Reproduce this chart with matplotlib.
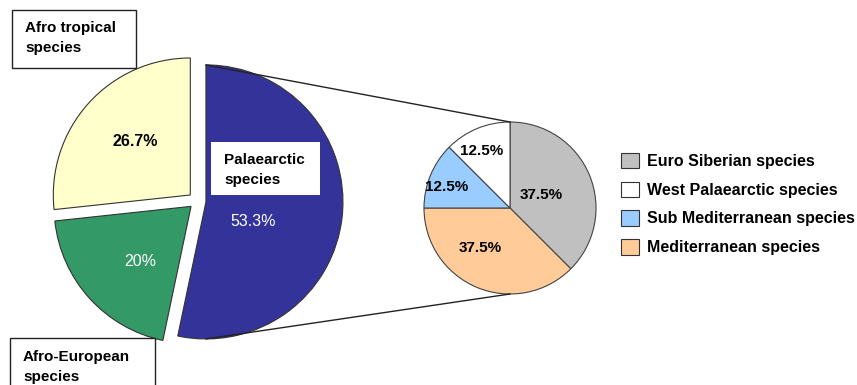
import numpy as np
import matplotlib.pyplot as plt
from matplotlib.patches import Rectangle

plt.rcParams['font.family'] = ['Liberation Sans', 'DejaVu Sans']

# main pie
main_labels = ['Afro tropical species', 'Afro-European species', 'Palaearctic species']
main_values = [26.7, 20.0, 53.3]
main_colors = ['#FFFFCC', '#339966', '#333399']
main_pct = ['26.7%', '20%', '53.3%']

# breakdown of Palaearctic species
sub_labels = ['Euro Siberian species', 'Mediterranean species',
              'Sub Mediterranean species', 'West Palaearctic species']
sub_values = [37.5, 37.5, 12.5, 12.5]
sub_colors = ['#C0C0C0', '#FFCC99', '#99CCFF', '#FFFFFF']
legend_order = [0, 3, 2, 1]

W, H = 857, 385
fig = plt.figure(figsize=(W / 100, H / 100), dpi=100)
ax = fig.add_axes([0, 0, 1, 1])

def py(y):
    return H - y

# explode is in data units here (pixels)
c_main = (197, py(201))
r_main = 137
wedges, _ = ax.pie(main_values, colors=main_colors, startangle=90, counterclock=True,
                   center=c_main, radius=r_main, explode=[9, 8, 9],
                   wedgeprops=dict(edgecolor='#333333', linewidth=0.8), frame=True)

c_sub = (510, py(208))
r_sub = 86
swedges, _ = ax.pie(sub_values, colors=sub_colors, startangle=90, counterclock=False,
                    center=c_sub, radius=r_sub,
                    wedgeprops=dict(edgecolor='#444444', linewidth=0.8), frame=True)
ax.set_xlim(0, W)
ax.set_ylim(0, H)
ax.set_aspect('equal')
ax.axis('off')

# connector lines from the Palaearctic wedge to the breakdown pie
blue = wedges[2]
bx, by = blue.center
for ang in (90, 270):
    a = np.deg2rad(ang)
    x0 = bx + blue.r * np.cos(a)
    y0 = by + blue.r * np.sin(a)
    x1 = c_sub[0] + r_sub * np.cos(a)
    y1 = c_sub[1] + r_sub * np.sin(a)
    ax.plot([x0, x1], [y0, y1], color='#222222', lw=1.0)

# percentage labels
ax.text(135, py(141), main_pct[0], ha='center', va='center', fontsize=11.5, fontweight='bold', color='black')
ax.text(140, py(262), main_pct[1], ha='center', va='center', fontsize=11.5, color='white')
ax.text(253, py(221), main_pct[2], ha='center', va='center', fontsize=11.5, color='white')

ax.text(541, py(195), '37.5%', ha='center', va='center', fontsize=11, fontweight='bold')
ax.text(480, py(248), '37.5%', ha='center', va='center', fontsize=11, fontweight='bold')
ax.text(447, py(187), '12.5%', ha='center', va='center', fontsize=11, fontweight='bold')
ax.text(482, py(151), '12.5%', ha='center', va='center', fontsize=11, fontweight='bold')

# name boxes
ax.add_patch(Rectangle((12, py(68)), 124, 58, facecolor='white', edgecolor='#222222', lw=1.0))
ax.text(25, py(38), 'Afro tropical\nspecies', ha='left', va='center', fontsize=11,
        fontweight='bold', linespacing=1.5)

ax.add_patch(Rectangle((10, py(392)), 145, 54, facecolor='white', edgecolor='#222222', lw=1.0))
ax.text(23, py(367), 'Afro-European\nspecies', ha='left', va='center', fontsize=11,
        fontweight='bold', linespacing=1.5)

ax.add_patch(Rectangle((211, py(195)), 109, 53, facecolor='white', edgecolor='none'))
ax.text(224, py(170), 'Palaearctic\nspecies', ha='left', va='center', fontsize=11,
        fontweight='bold', linespacing=1.5)

# legend
handles = [swedges[i] for i in legend_order]
names = [sub_labels[i] for i in legend_order]
leg = ax.legend(handles, names, loc='center left', bbox_to_anchor=(621 / W, 1 - 204 / H),
                frameon=False, fontsize=11.5, handlelength=1.1, handleheight=1.1,
                labelspacing=0.8, handletextpad=0.55, borderaxespad=0, borderpad=0)
for t in leg.get_texts():
    t.set_fontweight('bold')
for p in leg.get_patches():
    p.set_edgecolor('#333333')

fig.savefig('out.png', dpi=100)
